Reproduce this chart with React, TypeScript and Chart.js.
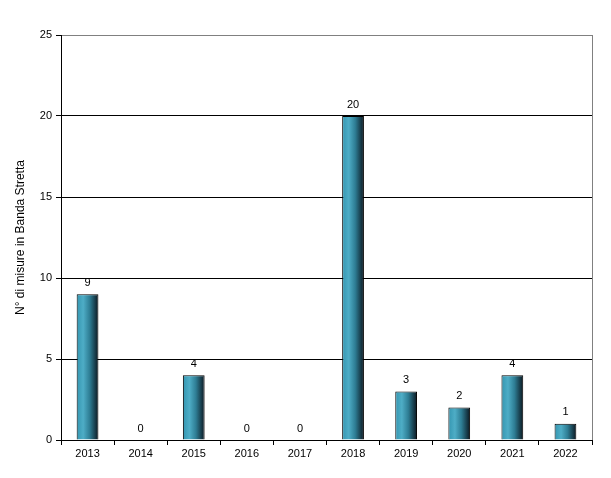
import React, { useEffect, useRef } from "react";
import { Chart, registerables } from "chart.js";

Chart.register(...registerables);

const categories = ["2013", "2014", "2015", "2016", "2017", "2018", "2019", "2020", "2021", "2022"];
const measures = [9, 0, 4, 0, 0, 20, 3, 2, 4, 1];
const yTicks = [0, 5, 10, 15, 20, 25];
const yTitle = "N° di misure in Banda Stretta";

const FONT = "'Liberation Sans', Arial, sans-serif";
const BAR_FRACTION = 0.41;

export default function App() {
  const ref = useRef<HTMLCanvasElement | null>(null);

  useEffect(() => {
    if (!ref.current) return;

    const labelPlugin = {
      id: "valueLabels",
      afterDatasetsDraw(chart: any) {
        const { ctx } = chart;
        const meta = chart.getDatasetMeta(0);
        ctx.save();
        ctx.font = `11px ${FONT}`;
        ctx.fillStyle = "#000";
        ctx.textAlign = "center";
        ctx.textBaseline = "bottom";
        meta.data.forEach((el: any, i: number) => {
          ctx.fillText(String(measures[i]), el.x, el.y - 6);
        });
        ctx.restore();
      },
    };

    const borderPlugin = {
      id: "rightBorder",
      afterDraw(chart: any) {
        const { ctx, chartArea } = chart;
        ctx.save();
        ctx.strokeStyle = "#808080";
        ctx.lineWidth = 1;
        ctx.beginPath();
        ctx.moveTo(Math.round(chartArea.right) + 0.5, chartArea.top);
        ctx.lineTo(Math.round(chartArea.right) + 0.5, chartArea.bottom);
        ctx.stroke();
        ctx.restore();
      },
    };

    const chart = new Chart(ref.current, {
      type: "bar",
      data: {
        labels: categories,
        datasets: [
          {
            data: measures,
            categoryPercentage: 1,
            barPercentage: BAR_FRACTION,
            borderColor: "#000",
            borderWidth: 1,
            backgroundColor: (c: any) => {
              const ch = c.chart;
              const xs = ch.scales?.x;
              if (!ch.chartArea || !xs) return "#3a9ab5";
              const x = xs.getPixelForValue(c.dataIndex);
              const w = (xs.width / categories.length) * BAR_FRACTION;
              const g = ch.ctx.createLinearGradient(x - w / 2, 0, x + w / 2, 0);
              g.addColorStop(0, "#3496b1");
              g.addColorStop(0.3, "#4eadc6");
              g.addColorStop(0.6, "#2e7d94");
              g.addColorStop(1, "#0b1720");
              return g;
            },
          },
        ],
      },
      options: {
        responsive: false,
        animation: false,
        layout: { padding: { top: 35, right: 19, left: 0, bottom: 0 } },
        plugins: {
          legend: { display: false },
          tooltip: { enabled: false },
        },
        scales: {
          x: {
            grid: {
              offset: true,
              drawOnChartArea: false,
              drawTicks: true,
              tickLength: 5,
              color: "#000",
            },
            border: { color: "#000", width: 1 },
            ticks: { color: "#000", font: { family: FONT, size: 11 }, padding: 2, maxRotation: 0 },
            afterFit: (s: any) => {
              s.height = 38;
            },
          },
          y: {
            min: 0,
            max: 25,
            afterBuildTicks: (s: any) => {
              s.ticks = yTicks.map((v) => ({ value: v }));
            },
            grid: {
              color: (c: any) => (c.tick && c.tick.value === 25 ? "#808080" : "#000"),
              tickColor: "#000",
              tickLength: 5,
              lineWidth: 1,
            },
            border: { color: "#000", width: 1 },
            ticks: { color: "#000", font: { family: FONT, size: 11 }, padding: 4 },
            title: {
              display: true,
              text: yTitle,
              color: "#000",
              font: { family: FONT, size: 12 },
              padding: { top: 13, bottom: 0 },
            },
            afterFit: (s: any) => {
              s.width = 61;
            },
          },
        },
      },
      plugins: [labelPlugin, borderPlugin],
    });

    return () => chart.destroy();
  }, []);

  return (
    <div style={{ position: "fixed", left: 0, top: 0, width: 611, height: 478, background: "#fff" }}>
      <canvas ref={ref} width={611} height={478} style={{ width: 611, height: 478 }} />
    </div>
  );
}
